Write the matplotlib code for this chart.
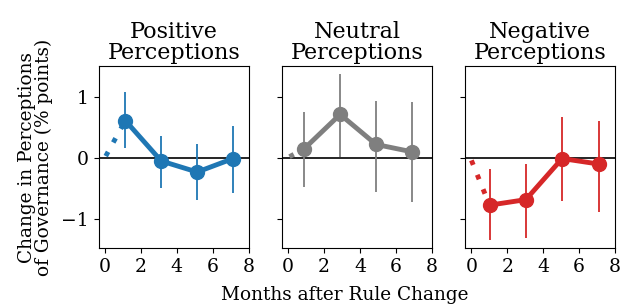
import matplotlib
matplotlib.use("Agg")
import matplotlib.pyplot as plt

plt.rcParams['font.family'] = ['DejaVu Serif']

# DATA
titles = ["Positive\nPerceptions", "Neutral\nPerceptions", "Negative\nPerceptions"]
colors = ["#1f77b4", "#7f7f7f", "#d62728"]

pos_x = [1.13, 3.13, 5.13, 7.13]
pos_y = [0.61, -0.05, -0.23, -0.01]
pos_lo = [0.16, -0.49, -0.68, -0.57]
pos_hi = [1.08, 0.36, 0.23, 0.52]
pos_start = [0.04, 0.03]

neu_x = [0.89, 2.89, 4.89, 6.89]
neu_y = [0.15, 0.71, 0.22, 0.10]
neu_lo = [-0.47, 0.01, -0.55, -0.72]
neu_hi = [0.75, 1.37, 0.93, 0.91]
neu_start = [0.07, 0.02]

neg_x = [1.01, 3.03, 5.05, 7.10]
neg_y = [-0.77, -0.68, -0.01, -0.10]
neg_lo = [-1.34, -1.30, -0.70, -0.88]
neg_hi = [-0.18, -0.10, 0.66, 0.61]
neg_start = [0.0, -0.04]

series = [
    (pos_x, pos_y, pos_lo, pos_hi, pos_start),
    (neu_x, neu_y, neu_lo, neu_hi, neu_start),
    (neg_x, neg_y, neg_lo, neg_hi, neg_start),
]

fig = plt.figure(figsize=(6.21, 3.04), dpi=100)
lefts = [0.159, 0.454, 0.749]
axes = []
for i, (x, y, lo, hi, st) in enumerate(series):
    ax = fig.add_axes([lefts[i], 0.184, 0.2415, 0.599])
    axes.append(ax)
    c = colors[i]
    ax.axhline(0, color="black", lw=1.2, zorder=1)
    ax.vlines(x, lo, hi, color=c, lw=1.3, zorder=2)
    ax.plot([st[0], x[0]], [st[1], y[0]], color=c, lw=3.5, zorder=3,
            dashes=(1, 2.2), dash_capstyle="butt")
    ax.plot(x, y, "-o", color=c, lw=3.5, ms=10, zorder=4)
    ax.set_xlim(-0.35, 8)
    ax.set_ylim(-1.47, 1.5)
    ax.set_xticks([0, 2, 4, 6, 8])
    ax.set_yticks([-1, 0, 1])
    ax.tick_params(labelsize=13.5)
    ax.set_title(titles[i], fontsize=16, linespacing=0.95, pad=5)
    if i > 0:
        ax.set_yticklabels([])

axes[0].set_ylabel("Change in Perceptions\nof Governance (% points)", fontsize=13.3,
                   linespacing=0.95, labelpad=6)
fig.text(0.555, 0.0, "Months after Rule Change", ha="center", va="bottom", fontsize=13.3)

fig.savefig("out.png", dpi=100)
